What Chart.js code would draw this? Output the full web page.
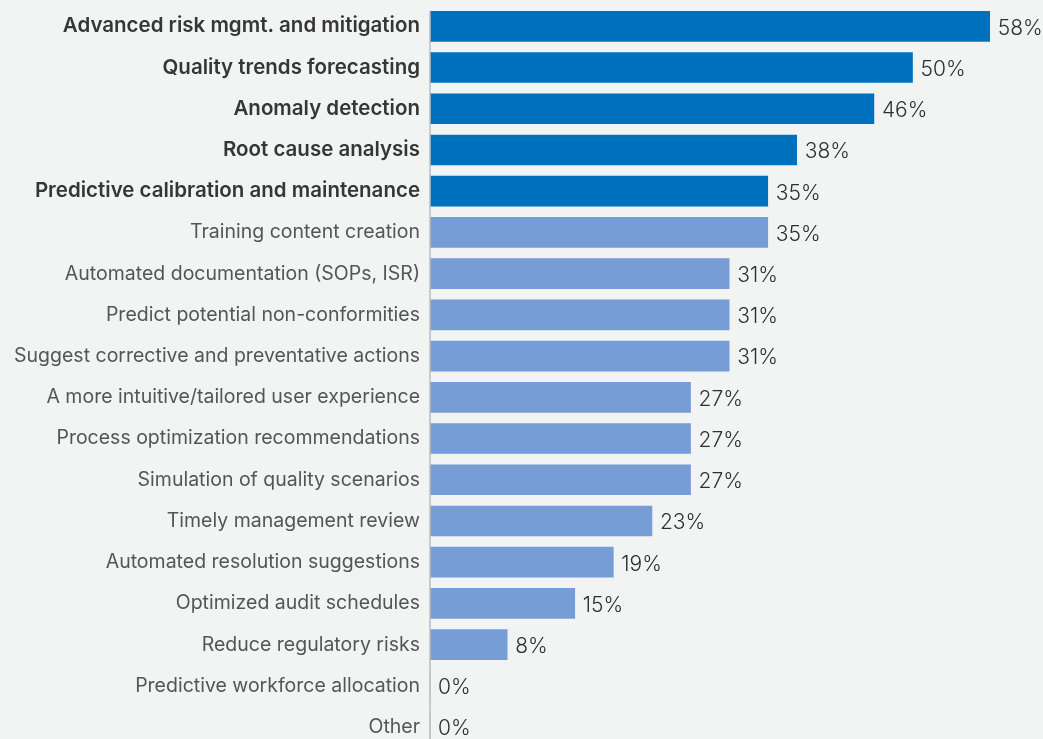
<!DOCTYPE html>
<html>
<head>
<meta charset="utf-8">
<script src="https://cdn.jsdelivr.net/npm/chart.js@4/dist/chart.umd.min.js"></script>
<style>
  html, body { margin: 0; padding: 0; background: #f2f4f3; overflow: hidden; }
  #wrap { position: relative; top: -16px; width: 1043px; height: 786px; }
</style>
</head>
<body>
<div id="wrap"><canvas id="c"></canvas></div>
<script>
// Survey responses: desired AI capabilities in quality management
const categories = [
  'Advanced risk mgmt. and mitigation',
  'Quality trends forecasting',
  'Anomaly detection',
  'Root cause analysis',
  'Predictive calibration and maintenance',
  'Training content creation',
  'Automated documentation (SOPs, ISR)',
  'Predict potential non-conformities',
  'Suggest corrective and preventative actions',
  'A more intuitive/tailored user experience',
  'Process optimization recommendations',
  'Simulation of quality scenarios',
  'Timely management review',
  'Automated resolution suggestions',
  'Optimized audit schedules',
  'Reduce regulatory risks',
  'Predictive workforce allocation',
  'Other'
];
const shares = [58, 50, 46, 38, 35, 35, 31, 31, 31, 27, 27, 27, 23, 19, 15, 8, 0, 0];
// The leading five capabilities are highlighted
const highlightCount = 5;

const DARK = '#0071bc';
const LIGHT = '#769dd5';
const FONT = "Inter, 'Open Sans', sans-serif";

const valueLabels = {
  id: 'valueLabels',
  afterDatasetsDraw(chart) {
    const ctx = chart.ctx;
    const meta = chart.getDatasetMeta(0);
    ctx.save();
    ctx.font = `300 21px ${FONT}`;
    ctx.fillStyle = '#2f2f2f';
    ctx.textAlign = 'left';
    ctx.textBaseline = 'middle';
    meta.data.forEach((bar, i) => {
      ctx.fillText(shares[i] + '%', bar.x + 8, bar.y + 2);
    });
    ctx.restore();
  }
};

const axisLine = {
  id: 'axisLine',
  afterDatasetsDraw(chart) {
    const ctx = chart.ctx;
    const area = chart.chartArea;
    const first = chart.getDatasetMeta(0).data[0];
    ctx.save();
    ctx.strokeStyle = '#bdbdbd';
    ctx.lineWidth = 1.5;
    ctx.beginPath();
    ctx.moveTo(area.left, first.y - first.height / 2);
    ctx.lineTo(area.left, chart.height);
    ctx.stroke();
    ctx.restore();
  }
};

new Chart(document.getElementById('c'), {
  type: 'bar',
  data: {
    labels: categories,
    datasets: [{
      data: shares,
      backgroundColor: shares.map((_, i) => i < highlightCount ? DARK : LIGHT),
      barThickness: 30,
      borderWidth: 0
    }]
  },
  options: {
    indexAxis: 'y',
    responsive: true,
    maintainAspectRatio: false,
    animation: false,
    layout: { padding: { top: 0, bottom: 0, right: 34, left: 0 } },
    plugins: { legend: { display: false }, tooltip: { enabled: false } },
    scales: {
      x: { display: false, min: 0, max: 60 },
      y: {
        afterFit(scale) { scale.width = 430; },
        grid: { display: false, drawTicks: false },
        border: { display: false },
        ticks: {
          padding: 10,
          color: (c) => c.index < highlightCount ? '#363636' : '#555555',
          font: (c) => ({
            family: FONT,
            size: c.index < highlightCount ? 20.5 : 19.5,
            weight: c.index < highlightCount ? '600' : '400'
          })
        }
      }
    }
  },
  plugins: [valueLabels, axisLine]
});
</script>
</body>
</html>
